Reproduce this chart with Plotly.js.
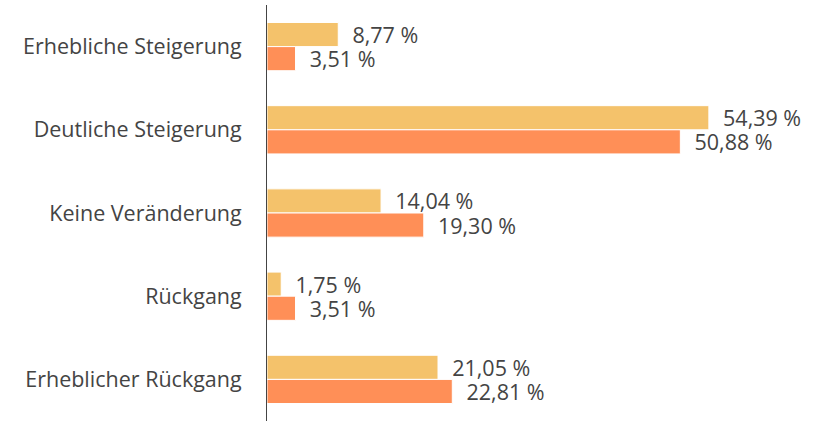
<!DOCTYPE html>
<html>
<head>
<meta charset="utf-8">
<script src="https://cdn.plot.ly/plotly-3.0.1.min.js"></script>
<style>html,body{margin:0;padding:0;background:#fff;}#chart{width:817px;height:421px;}</style>
</head>
<body>
<div id="chart"></div>
<script>
const categories = ["Erhebliche Steigerung", "Deutliche Steigerung", "Keine Veränderung", "Rückgang", "Erheblicher Rückgang"];
const seriesA = [8.77, 54.39, 14.04, 1.75, 21.05];
const seriesB = [3.51, 50.88, 19.30, 3.51, 22.81];

const fontFam = "'Open Sans', sans-serif";
const textFont = {family: fontFam, size: 21.5, color: "#444444"};

const traces = [
  {type: "bar", orientation: "h", name: "A", y: categories, x: seriesA,
   marker: {color: "#F4C26B", line: {color: "#ffffff", width: 1}},
   texttemplate: "  %{x:.2f} %", textposition: "outside", cliponaxis: false,
   constraintext: "none",
   textfont: textFont, hoverinfo: "skip"},
  {type: "bar", orientation: "h", name: "B", y: categories, x: seriesB,
   marker: {color: "#FF8F57", line: {color: "#ffffff", width: 1}},
   texttemplate: "  %{x:.2f} %", textposition: "outside", cliponaxis: false,
   constraintext: "none",
   textfont: textFont, hoverinfo: "skip"}
];

const layout = {
  width: 817, height: 421,
  margin: {l: 267, r: 0, t: 5, b: 0, pad: 0},
  paper_bgcolor: "#ffffff", plot_bgcolor: "#ffffff",
  separators: ", ",
  showlegend: false,
  barmode: "group",
  bargap: 0.42, bargroupgap: 0,
  font: {family: fontFam, color: "#444444"},
  xaxis: {range: [0, 67.7], showgrid: false, zeroline: false, showticklabels: false, showline: false, fixedrange: true},
  yaxis: {autorange: "reversed", type: "category", showgrid: false, zeroline: false,
          showline: true, linecolor: "#444444", linewidth: 1,
          ticks: "", ticklabelstandoff: 20,
          tickfont: {family: fontFam, size: 21.5, color: "#444444"}, fixedrange: true}
};

Plotly.newPlot("chart", traces, layout, {displayModeBar: false, staticPlot: true});
</script>
</body>
</html>
